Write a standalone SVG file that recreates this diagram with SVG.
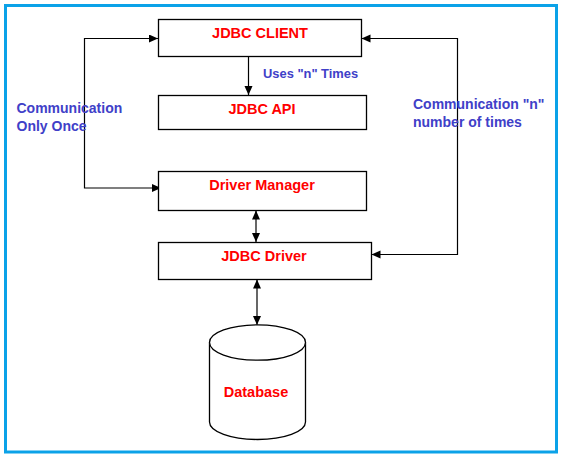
<svg xmlns="http://www.w3.org/2000/svg" width="562" height="459" viewBox="0 0 562 459">
<style>
.box{fill:#fff;stroke:#000;stroke-width:1.3}
.lbl{font-family:"Liberation Sans",Arial,sans-serif;font-weight:bold;font-size:14.5px;fill:#ff0000;text-anchor:middle}
.note{font-family:"Liberation Sans",Arial,sans-serif;font-weight:bold;font-size:14px;fill:#4040c8}
.small{font-size:12.9px}
.ln{fill:none;stroke:#000;stroke-width:1.2}
</style>
<defs>
<marker id="ah" markerUnits="userSpaceOnUse" markerWidth="10" markerHeight="10" refX="9" refY="4" orient="auto-start-reverse">
<path d="M0,0 L9,4 L0,8 Z" fill="#000"/>
</marker>
</defs>
<rect x="5.5" y="5.5" width="551" height="446.5" fill="#fff" stroke="#0ba2e8" stroke-width="3"/>
<g id="connectors">
<path class="ln" d="M248.5,56.5 V95" marker-end="url(#ah)"/>
<path class="ln" d="M256,210.5 V242" marker-start="url(#ah)" marker-end="url(#ah)"/>
<path class="ln" d="M257,279.5 V325" marker-start="url(#ah)" marker-end="url(#ah)"/>
<path class="ln" d="M158,38.5 H84.5 V188 H161" marker-start="url(#ah)" marker-end="url(#ah)"/>
<path class="ln" d="M361.5,38.5 H457.5 V254.5 H371.5" marker-start="url(#ah)" marker-end="url(#ah)"/>
</g>
<g id="jdbc-client">
<rect class="box" x="158.5" y="19.5" width="203" height="37"/>
<text class="lbl" x="260" y="38">JDBC CLIENT</text>
</g>
<g id="jdbc-api">
<rect class="box" x="158.5" y="95.5" width="208" height="34"/>
<text class="lbl" x="262" y="113.5">JDBC API</text>
</g>
<g id="driver-manager">
<rect class="box" x="158.5" y="171.5" width="208" height="39"/>
<text class="lbl" x="262" y="190">Driver Manager</text>
</g>
<g id="jdbc-driver">
<rect class="box" x="158.5" y="242.5" width="213" height="37"/>
<text class="lbl" x="264" y="261">JDBC Driver</text>
</g>
<g id="database">
<path class="box" d="M209.5,342.5 V422 A48,17.5 0 0 0 305.5,422 V342.5"/>
<ellipse class="box" cx="257.5" cy="342.5" rx="48" ry="17.7"/>
<text class="lbl" x="256" y="396.5">Database</text>
</g>
<g id="labels">
<text class="note small" x="263" y="77.5">Uses "n" Times</text>
<text class="note" x="16.5" y="113">Communication</text>
<text class="note" x="16.5" y="131">Only Once</text>
<text class="note" x="413" y="109">Communication "n"</text>
<text class="note" x="413" y="127">number of times</text>
</g>
</svg>
